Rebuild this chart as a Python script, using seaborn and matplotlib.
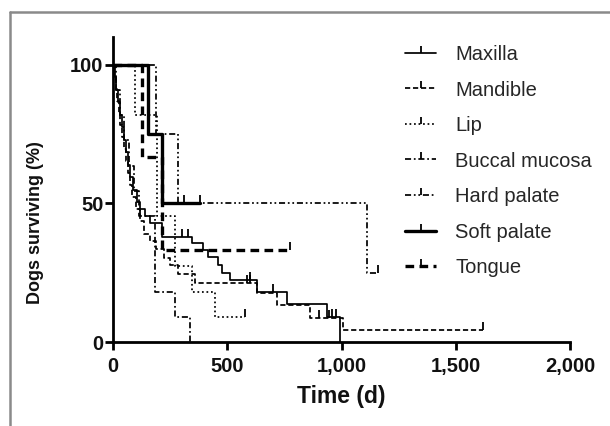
import numpy as np
import pandas as pd
import matplotlib
matplotlib.use("Agg")
import matplotlib.pyplot as plt
from matplotlib.lines import Line2D
import seaborn as sns

# ---------------- data ----------------
groups = ["Maxilla", "Mandible", "Lip", "Buccal mucosa", "Hard palate", "Soft palate", "Tongue"]

maxilla_t = [0, 8, 15, 22, 30, 38, 46, 55, 64, 75, 88, 105, 120, 140, 160, 213, 345, 395, 417, 461, 477, 512, 630, 761, 936, 993]
maxilla_s = [100, 95.5, 91, 86.5, 82, 77.5, 73, 68.5, 64, 59.5, 55, 50.5, 48, 45.5, 43, 38, 35.7, 33.2, 30.8, 27.8, 25, 22.4, 18.2, 13.6, 9.1, 0]
maxilla_cens = [300, 330, 600, 700, 960, 975]

mandible_t = [0, 6, 12, 18, 25, 32, 40, 48, 56, 65, 75, 85, 100, 118, 135, 160, 190, 225, 250, 285, 359, 630, 717, 862, 1007, 1620]
mandible_s = [100, 95.7, 91.3, 87, 82.6, 78.3, 73.9, 69.6, 65.2, 60.9, 56.5, 52.2, 47.8, 43.5, 39.1, 36.5, 33.5, 30.4, 27.8, 24.5, 21.2, 17.6, 13.4, 8.7, 4.3, 4.3]
mandible_cens = [586, 600, 900, 945, 1620]

lip_t = [0, 95, 191, 271, 345, 446, 578]
lip_s = [100, 81.8, 45.5, 27.3, 18.2, 9.1, 9.1]
lip_cens = [578]

buccal_t = [0, 12, 30, 50, 70, 90, 115, 184, 271, 337]
buccal_s = [100, 90.9, 81.8, 72.7, 63.6, 54.5, 45.5, 18.2, 9.1, 0]
buccal_cens = [120]

hard_t = [0, 190, 286, 1110, 1160]
hard_s = [100, 75, 50, 25, 25]
hard_cens = [1160]

soft_t = [0, 155, 213, 381]
soft_s = [100, 75, 50, 50]
soft_cens = [311, 381]

tongue_t = [0, 125, 213, 775]
tongue_s = [100, 66.7, 33.3, 33.3]
tongue_cens = [775]

x_ticks = [0, 500, 1000, 1500, 2000]
x_tick_labels = ["0", "500", "1,000", "1,500", "2,000"]
y_ticks = [0, 50, 100]
y_tick_labels = ["0", "50", "100"]

series = {
    "Maxilla": (maxilla_t, maxilla_s, maxilla_cens),
    "Mandible": (mandible_t, mandible_s, mandible_cens),
    "Lip": (lip_t, lip_s, lip_cens),
    "Buccal mucosa": (buccal_t, buccal_s, buccal_cens),
    "Hard palate": (hard_t, hard_s, hard_cens),
    "Soft palate": (soft_t, soft_s, soft_cens),
    "Tongue": (tongue_t, tongue_s, tongue_cens),
}

# ---------------- styles ----------------
dash_map = {
    "Maxilla": "",
    "Mandible": (3, 1.6),
    "Lip": (1, 1.6),
    "Buccal mucosa": (3.5, 1.6, 1, 1.6),
    "Hard palate": (3.5, 1.6, 1, 1.6, 1, 1.6),
    "Soft palate": "",
    "Tongue": (2.6, 1.6),
}
lw_map = {
    "Maxilla": 1.25, "Mandible": 1.25, "Lip": 1.25, "Buccal mucosa": 1.25,
    "Hard palate": 1.25, "Soft palate": 2.4, "Tongue": 2.4,
}

# ---------------- build tables ----------------
rows, crows = [], []
for g in groups:
    t, s, c = series[g]
    for ti, si in zip(t, s):
        rows.append((g, ti, si))
    t_arr = np.asarray(t, float)
    s_arr = np.asarray(s, float)
    for ci in c:
        idx = np.searchsorted(t_arr, ci, side="right") - 1
        crows.append((g, ci, s_arr[idx]))
df = pd.DataFrame(rows, columns=["group", "t", "s"])
cdf = pd.DataFrame(crows, columns=["group", "t", "s"])

# ---------------- plot ----------------
sns.set_theme(style="ticks")
plt.rcParams["font.family"] = ["Liberation Sans", "DejaVu Sans"]

fig = plt.figure(figsize=(6.10, 4.26), dpi=100)
ax = fig.add_axes([113 / 610, 84 / 426, 457 / 610, 305 / 426])

sns.lineplot(
    data=df, x="t", y="s", hue="group", style="group", size="group",
    palette={g: "black" for g in groups}, dashes=dash_map, sizes=lw_map,
    hue_order=groups, style_order=groups, size_order=groups,
    drawstyle="steps-post", estimator=None, sort=False, legend=False, ax=ax,
)
sns.scatterplot(
    data=cdf, x="t", y="s", marker=2, s=30, color="black",
    linewidth=1.3, legend=False, ax=ax, zorder=4,
)

ax.set_xlim(0, 2000)
ax.set_ylim(0, 110)
ax.set_xticks(x_ticks)
ax.set_xticklabels(x_tick_labels)
ax.set_yticks(y_ticks)
ax.set_yticklabels(y_tick_labels)
for lab in ax.get_xticklabels() + ax.get_yticklabels():
    lab.set_fontweight("bold")
    lab.set_fontsize(14.5)
    lab.set_color("#111111")

for side in ["top", "right"]:
    ax.spines[side].set_visible(False)
for side in ["left", "bottom"]:
    ax.spines[side].set_linewidth(2.0)
    ax.spines[side].set_color("black")
ax.tick_params(axis="both", direction="out", length=5.5, width=2.0, color="black")
ax.tick_params(axis="x", pad=5)
ax.tick_params(axis="y", pad=1.5)

ax.set_xlabel("Time (d)", fontsize=16.5, fontweight="bold", color="#111111")
ax.set_ylabel("Dogs surviving (%)", fontsize=13, fontweight="bold", color="#111111")
ax.xaxis.set_label_coords(0.5, -0.14)
ax.yaxis.set_label_coords(-0.152, 0.39)

handles = [
    Line2D([0], [0], color="black", lw=lw_map[g],
           linestyle="-" if dash_map[g] == "" else (0, dash_map[g]),
           marker=2, markersize=5, markeredgewidth=1.3)
    for g in groups
]
fig.legend(
    handles, groups, loc="upper left", bbox_to_anchor=(405 / 610, 1 - 45 / 426),
    frameon=False, fontsize=14.5, handlelength=1.55, handletextpad=0.95,
    labelspacing=0.82, borderpad=0, borderaxespad=0, numpoints=1,
)

# grey frame (left and top) seen in the reference
fig.add_artist(Line2D([10 / 610, 10 / 610], [0, 1 - 12 / 426], transform=fig.transFigure,
                      color="#8a8a8a", lw=1.8))
fig.add_artist(Line2D([10 / 610, 1], [1 - 12 / 426, 1 - 12 / 426], transform=fig.transFigure,
                      color="#8a8a8a", lw=1.8))

fig.savefig("out.png", dpi=100)
